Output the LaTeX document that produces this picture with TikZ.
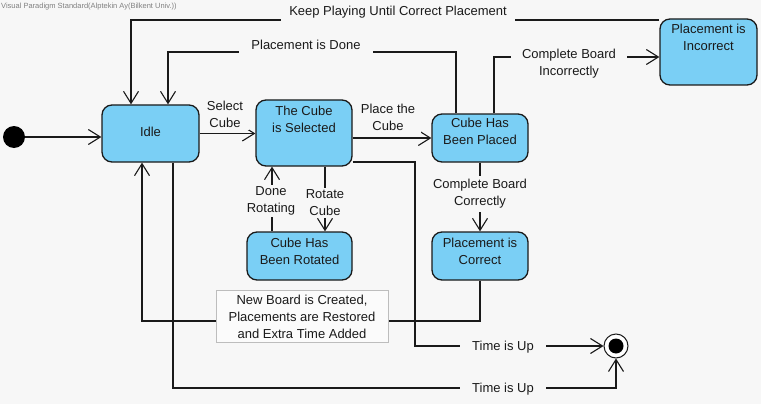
\documentclass[tikz,border=0pt]{standalone}
\usepackage{fontspec}
\setmainfont{Liberation Sans}
\usetikzlibrary{arrows.meta,calc}
\definecolor{bg}{HTML}{F7F7F7}
\definecolor{stfill}{HTML}{7ACFF5}
\definecolor{ink}{HTML}{1A1A1A}
\definecolor{noteline}{HTML}{BDBDBD}
\definecolor{notefill}{HTML}{FBFBFB}
\begin{document}
\begin{tikzpicture}[x=1pt,y=-1pt,
  state/.style={draw=ink, line width=1.3pt, fill=stfill, rounded corners=10pt, inner sep=0},
  stxt/.style={align=center, font=\fontsize{13}{17}\selectfont, text=ink, inner sep=0},
  lbl/.style={align=center, font=\fontsize{13}{17}\selectfont, text=ink, fill=bg, inner xsep=6pt, inner ysep=3pt},
  notebox/.style={draw=noteline, fill=notefill, line width=0.8pt, align=center, font=\fontsize{13}{17}\selectfont, text=ink, inner sep=0},
  tr/.style={draw=ink, line width=1.1pt, -{Straight Barb[length=12pt,width=15pt,line width=1.1pt]}},
]
\fill[bg] (0,0) rectangle (761,404);
\useasboundingbox (0,0) rectangle (761,404);

\node[anchor=west, font=\fontsize{7.5}{9}\selectfont, text=gray, inner sep=0] (wm) at (1,7) {Visual Paradigm Standard(Alptekin Ay(Bilkent Univ.))};

% states
\node[state, minimum width=97pt, minimum height=57pt] (idle) at (150.5,133.5) {};
\node[stxt] (idleT) at (150.5,131.5) {Idle};
\node[state, minimum width=96pt, minimum height=66pt] (sel) at (304,133) {};
\node[stxt] (selT) at (304,119) {The Cube\\is Selected};
\node[state, minimum width=96pt, minimum height=48pt] (placed) at (480,138) {};
\node[stxt] (placedT) at (480,131.5) {Cube Has\\Been Placed};
\node[state, minimum width=97pt, minimum height=66pt] (wrong) at (708.5,52) {};
\node[stxt] (wrongT) at (708.5,37) {Placement is\\Incorrect};
\node[state, minimum width=105pt, minimum height=48pt] (rot) at (299.5,256) {};
\node[stxt] (rotT) at (299.5,251.5) {Cube Has\\Been Rotated};
\node[state, minimum width=96pt, minimum height=48pt] (right) at (480,256) {};
\node[stxt] (rightT) at (480,251.5) {Placement is\\Correct};
\node[circle, fill=black, minimum size=22pt, inner sep=0] (init) at (14,137) {};
\node[circle, draw=ink, fill=white, line width=1pt, minimum size=24pt, inner sep=0] (final) at (616,346) {};
\node[circle, fill=black, minimum size=15pt, inner sep=0] (finalIn) at (616,346) {};

% transitions
\draw[tr] (init) -- (idle.west |- init);
\draw[tr] (idle.east) -- (idle.east -| sel.west);
\node[lbl] (lSelect) at (225,114) {Select\\Cube};
\draw[tr] (sel.east |- placed.west) -- (placed.west);
\node[lbl] (lPlace) at (388,117) {Place the\\Cube};
\draw[tr] (sel.south -| 325,0) -- (rot.north -| 325,0);
\node[lbl, inner ysep=2pt] (lRot) at (325,203) {Rotate\\Cube};
\draw[tr] (rot.north -| 272,0) -- (sel.south -| 272,0);
\node[lbl, inner ysep=2pt, inner xsep=3pt] (lDone) at (271,201) {Done\\Rotating};
\draw[tr] (placed.south) -- (right.north);
\node[lbl, inner ysep=3pt] (lCorr) at (480,194) {Complete Board\\Correctly};
\draw[tr] (placed.north -| 494,0) |- (wrong.west |- 0,57);
\node[lbl, inner xsep=11pt] (lInc) at (569,64) {Complete Board\\Incorrectly};
\draw[tr] (placed.north -| 456,0) |- (168,52) -- (idle.north -| 168,0);
\node[lbl, inner xsep=12pt, inner ysep=4pt] (lPDone) at (306,44.5) {Placement is Done};
\draw[tr] (wrong.west |- 0,20) -- (131,20) -- (idle.north -| 131,0);
\node[lbl, inner xsep=8pt, inner ysep=4pt] (lKeep) at (398,12.5) {Keep Playing Until Correct Placement};
\draw[tr] (right.south) |- (142,321) -- (idle.south -| 142,0);
\node[notebox, minimum width=172pt, minimum height=52pt] (note) at (302,316.5) {New Board is Created,\\Placements are Restored\\and Extra Time Added};
\draw[tr] (sel.east |- 0,162) -| (415,346) -- (final.west);
\node[lbl, inner xsep=12pt] (lTime1) at (503,347.5) {Time is Up};
\draw[tr] (idle.south -| 173,0) |- (616,388) -- (final.south);
\node[lbl, inner xsep=12pt] (lTime2) at (503,389.5) {Time is Up};
\end{tikzpicture}
\end{document}
